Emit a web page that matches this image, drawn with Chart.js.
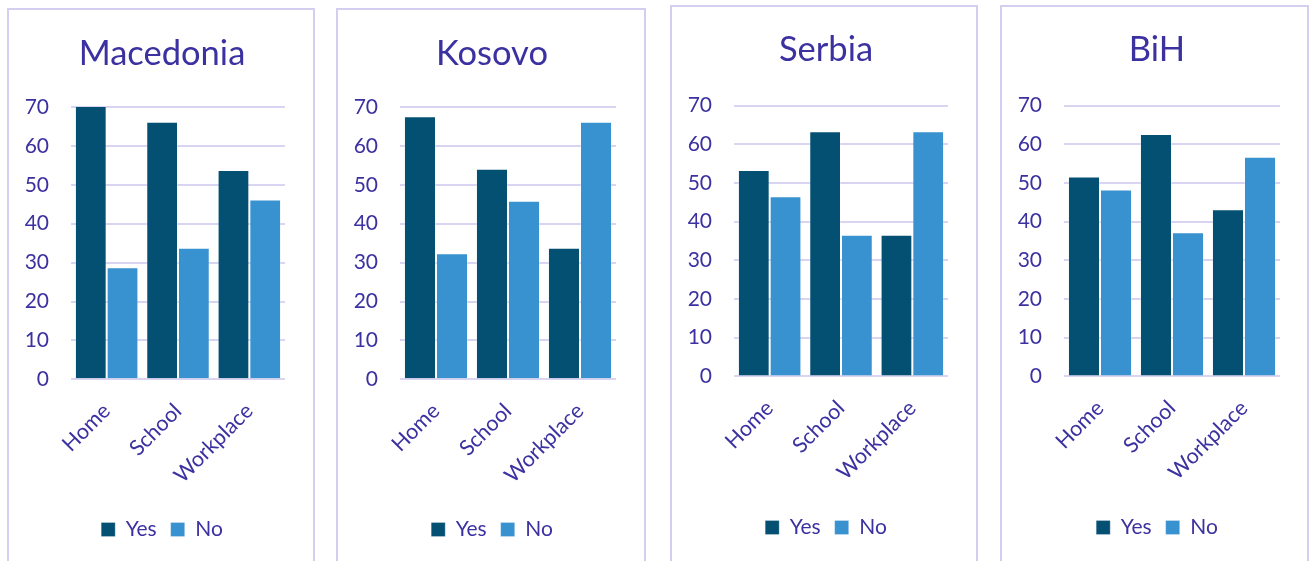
<!DOCTYPE html>
<html><head><meta charset="utf-8">
<script src="https://cdn.jsdelivr.net/npm/chart.js@4.4.1/dist/chart.umd.min.js"></script>
<style>
html,body{margin:0;padding:0;background:#fff;width:1309px;height:561px;overflow:hidden;position:relative;}
.panel{position:absolute;border:2px solid #D3CFF1;border-bottom:none;height:620px;box-sizing:border-box;}
canvas{position:absolute;top:0;}
</style></head><body>
<script>
// ---- data ----
const categories = ['Home', 'School', 'Workplace'];
const seriesNames = ['Yes', 'No'];
const countries = ['Macedonia', 'Kosovo', 'Serbia', 'BiH'];
const yesMacedonia = [71.2, 66.2, 53.8];
const noMacedonia  = [28.8, 33.8, 46.2];
const yesKosovo    = [67.6, 54.1, 33.8];
const noKosovo     = [32.4, 45.9, 66.2];
const yesSerbia    = [53.4, 63.4, 36.6];
const noSerbia     = [46.6, 36.6, 63.4];
const yesBiH       = [51.7, 62.7, 43.2];
const noBiH        = [48.3, 37.3, 56.8];
const yTicks = [0, 10, 20, 30, 40, 50, 60, 70];

// ---- styling / layout ----
const TEXT = '#3B31A0';
const GRID = '#D8D4F1';
const YES_COLOR = '#045072';
const NO_COLOR = '#3892CF';
const FONT = 'Lato, "Open Sans", sans-serif';
const H = 561, W = 310;

const layouts = [
  {L: 7,    T: 8, R: 315,  cl: 71,   cr: 285,  ct: 107,   cb: 379.3, tc: 53.5, lc: 529.5, cx: 162},
  {L: 336,  T: 8, R: 646,  cl: 400,  cr: 616,  ct: 107,   cb: 379.3, tc: 53.5, lc: 529.5, cx: 492},
  {L: 670,  T: 5, R: 978,  cl: 734,  cr: 948,  ct: 105.7, cb: 376.4, tc: 50.3, lc: 527.5, cx: 826},
  {L: 1000, T: 5, R: 1309, cl: 1064, cr: 1280, ct: 105.7, cb: 376.4, tc: 50.3, lc: 527.5, cx: 1157}
];
const seriesData = [
  [yesMacedonia, noMacedonia],
  [yesKosovo, noKosovo],
  [yesSerbia, noSerbia],
  [yesBiH, noBiH]
];

const TITLE_SIZE = 34.5, TITLE_LH = 1.2;
const LEG_SIZE = 21, LEG_PAD = 14;
const LEG_ITEM = LEG_SIZE;

countries.forEach((name, i) => {
  const g = layouts[i];
  const panel = document.createElement('div');
  panel.className = 'panel';
  panel.style.left = g.L + 'px';
  panel.style.top = g.T + 'px';
  panel.style.width = (g.R - g.L) + 'px';
  document.body.appendChild(panel);

  // canvas starts where the left y-axis box starts (page x = 0 offset from L - 60)
  const cL = g.L - 10;
  const cv = document.createElement('canvas');
  cv.width = W; cv.height = H;
  cv.style.left = cL + 'px';
  cv.style.width = W + 'px'; cv.style.height = H + 'px';
  document.body.appendChild(cv);

  const yW = g.cl - cL;                 // left axis box width
  const fullRight = 2 * (g.cx - cL);     // legend/title span 0..fullRight -> centred on cx
  const padR = W - fullRight;
  const rW = fullRight - (g.cr - cL);    // invisible right axis width
  const th = TITLE_SIZE * TITLE_LH;
  const tPadTop = g.tc - th / 2;
  const tPadBot = g.ct - tPadTop - th;
  const legTop = g.lc - LEG_PAD - LEG_ITEM / 2;
  const legBottom = legTop + LEG_ITEM + LEG_PAD + 10;
  const padB = H - legBottom;
  const xH = legTop - g.cb;

  new Chart(cv, {
    type: 'bar',
    data: {
      labels: categories,
      datasets: [
        {label: seriesNames[0], data: seriesData[i][0], backgroundColor: YES_COLOR,
         borderColor: 'rgba(255,255,255,0.25)', borderWidth: 1},
        {label: seriesNames[1], data: seriesData[i][1], backgroundColor: NO_COLOR,
         borderColor: 'rgba(255,255,255,0.25)', borderWidth: 1}
      ]
    },
    options: {
      responsive: false,
      animation: false,
      devicePixelRatio: 1,
      layout: {padding: {left: 0, right: padR, top: 0, bottom: padB}},
      datasets: {bar: {categoryPercentage: 0.89, barPercentage: 1.0}},
      plugins: {
        title: {
          display: true, text: name, color: TEXT,
          font: {family: FONT, size: TITLE_SIZE, weight: 'normal', lineHeight: TITLE_LH},
          padding: {top: tPadTop, bottom: tPadBot}
        },
        legend: {
          display: true, position: 'bottom',
          labels: {
            color: TEXT, boxWidth: 14, boxHeight: 14, padding: LEG_PAD,
            font: {family: FONT, size: LEG_SIZE}
          }
        },
        tooltip: {enabled: false}
      },
      scales: {
        x: {
          grid: {display: false},
          border: {display: false},
          ticks: {
            color: TEXT, font: {family: FONT, size: 21.5, lineHeight: 1.2},
            minRotation: 45, maxRotation: 45, autoSkip: false, padding: 11
          },
          afterFit: (s) => { s.height = xH; }
        },
        y: {
          min: 0, max: 70,
          grid: {color: GRID, lineWidth: 2, drawTicks: false},
          border: {display: false},
          ticks: {color: TEXT, font: {family: FONT, size: 21}, padding: 22, stepSize: 10},
          afterBuildTicks: (s) => { s.ticks = yTicks.map(v => ({value: v})); },
          afterFit: (s) => { s.width = yW; }
        },
        spacer: {
          type: 'linear', position: 'right', display: true,
          grid: {display: false}, border: {display: false},
          ticks: {display: false},
          afterFit: (s) => { s.width = rW; }
        }
      }
    }
  });
});
</script>
</body></html>
